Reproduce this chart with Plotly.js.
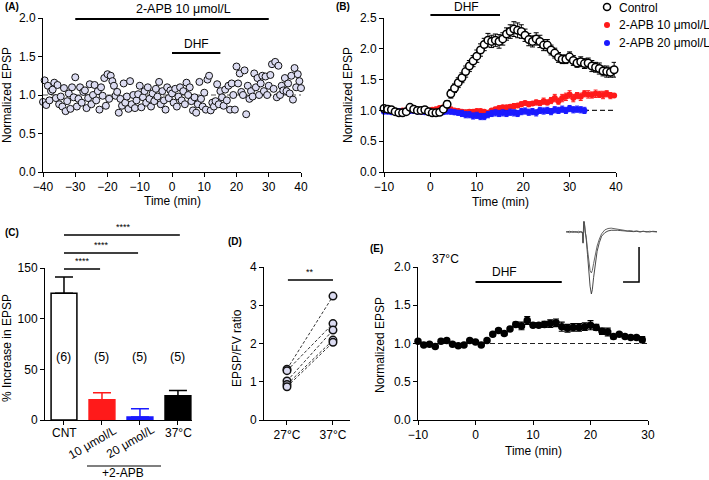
<!DOCTYPE html>
<html><head><meta charset="utf-8">
<script src="https://cdn.plot.ly/plotly-3.0.1.min.js"></script>
<style>html,body{margin:0;padding:0;background:#fff}#plot{width:709px;height:480px}</style>
</head><body><div id="plot"></div>
<script>
// ---------- Panel A: 2-APB 10 µmol/L, DHF ----------
const tA = [-40,-39.5,-39,-38.5,-38,-37.5,-37,-36.5,-36,-35.5,-35,-34.5,-34,-33.5,-33,-32.5,-32,-31.5,-31,-30.5,
-30,-29.5,-29,-28.5,-28,-27.5,-27,-26.5,-26,-25.5,-25,-24.5,-24,-23.5,-23,-22.5,-22,-21.5,-21,-20.5,
-20,-19.5,-19,-18.5,-18,-17.5,-17,-16.5,-16,-15.5,-15,-14.5,-14,-13.5,-13,-12.5,-12,-11.5,-11,-10.5,
-10,-9.5,-9,-8.5,-8,-7.5,-7,-6.5,-6,-5.5,-5,-4.5,-4,-3.5,-3,-2.5,-2,-1.5,-1,-0.5,
0,0.5,1,1.5,2,2.5,3,3.5,4,4.5,5,5.5,6,6.5,7,7.5,8,8.5,9,9.5,
10,10.5,11,11.5,12,12.5,13,13.5,14,14.5,15,15.5,16,16.5,17,17.5,18,18.5,19,19.5,
20,20.5,21,21.5,22,22.5,23,23.5,24,24.5,25,25.5,26,26.5,27,27.5,28,28.5,29,29.5,
30,30.5,31,31.5,32,32.5,33,33.5,34,34.5,35,35.5,36,36.5,37,37.5,38,38.5,39,39.5,40];
const vA = [0.91,1.19,0.87,1.12,0.93,1.05,1.07,1.16,0.96,1.13,0.88,0.98,0.85,1.09,0.79,0.92,1.02,0.82,1.10,0.97,
1.23,0.85,0.95,1.10,0.90,1.04,1.06,0.83,0.96,1.14,0.88,1.00,1.13,0.93,1.05,0.81,1.10,0.99,1.22,0.86,
1.27,0.95,1.25,1.18,1.12,0.99,1.04,0.77,0.95,0.86,1.15,0.90,0.98,0.82,1.18,0.88,1.00,0.83,0.93,1.01,
1.12,0.84,0.97,1.05,0.90,1.10,0.95,0.85,1.02,0.92,1.08,0.98,1.17,0.88,1.05,0.93,0.81,1.10,0.96,1.06,
1.02,0.90,1.08,0.85,0.98,1.10,0.93,1.05,0.88,1.16,1.00,1.10,0.92,0.80,0.97,0.77,0.88,1.17,0.95,0.85,
1.03,0.81,1.20,1.25,0.80,0.90,0.85,0.92,1.14,0.88,1.05,0.97,0.86,1.07,0.93,1.12,0.81,1.15,1.00,0.81,
1.37,1.15,1.28,1.04,1.00,1.32,0.75,1.12,0.95,1.05,0.98,1.28,1.10,1.22,1.00,1.15,1.25,1.05,1.24,1.00,
1.12,1.26,1.40,1.08,1.43,0.97,1.38,1.00,1.12,1.06,1.22,1.05,1.15,1.02,1.25,0.94,1.35,1.10,1.27,1.18,1.09];

// ---------- Panel B: Control vs 2-APB ----------
const tB = [-10,-9.2,-8.4,-7.6,-6.8,-6,-5.2,-4.4,-3.6,-2.8,-2,-1.2,-0.4,
0.4,1.2,2,2.8,3.6,
4.4,5.2,6,6.8,7.6,8.4,9.2,10,
10.8,11.6,12.4,13.2,14,14.8,15.6,16.4,17.2,18,18.8,19.6,20.4,
21.2,22,22.8,23.6,24.4,25.2,26,26.8,27.6,28.4,29.2,30,
30.8,31.6,32.4,33.2,34,34.8,35.6,36.4,37.2,38,38.8,39.6];
const ctrlMean = [1.03,1.02,1.01,0.98,0.96,0.96,0.98,1.05,1.02,1.00,1.00,1.01,0.98,
0.96,0.96,0.97,1.02,1.10,
1.27,1.36,1.45,1.53,1.63,1.72,1.80,1.88,
1.98,2.07,2.14,2.12,2.14,2.12,2.16,2.24,2.28,2.32,2.30,2.28,2.22,
2.15,2.12,2.16,2.12,2.06,2.06,1.98,1.93,1.86,1.83,1.83,1.87,
1.81,1.77,1.79,1.76,1.77,1.72,1.70,1.68,1.64,1.63,1.62,1.66];
const ctrlSem = [0.03,0.02,0.02,0.02,0.03,0.02,0.03,0.03,0.02,0.02,0.02,0.02,0.03,
0.03,0.03,0.04,0.05,0.06,
0.07,0.07,0.08,0.08,0.09,0.09,0.09,0.10,
0.10,0.10,0.11,0.10,0.10,0.11,0.10,0.10,0.11,0.12,0.12,0.11,0.10,
0.10,0.09,0.10,0.10,0.09,0.09,0.08,0.08,0.08,0.07,0.07,0.08,
0.08,0.07,0.08,0.08,0.08,0.09,0.08,0.09,0.08,0.09,0.08,0.12];
const apb10Mean = [0.99,0.99,0.98,0.98,0.99,1.00,1.00,1.00,1.00,0.99,0.98,0.99,1.00,
1.01,1.02,1.04,1.05,1.03,
1.02,1.00,0.99,0.98,0.97,0.98,0.98,0.99,
0.99,0.98,0.96,1.00,1.02,1.04,1.05,1.05,1.06,1.07,1.08,1.10,1.12,
1.10,1.11,1.13,1.12,1.15,1.13,1.16,1.20,1.15,1.20,1.22,1.26,
1.20,1.24,1.22,1.27,1.26,1.25,1.27,1.26,1.25,1.27,1.24,1.24];
const apb10Sem = [0.02,0.02,0.02,0.02,0.02,0.02,0.02,0.02,0.02,0.02,0.02,0.02,0.02,
0.02,0.03,0.03,0.03,0.03,
0.03,0.03,0.03,0.03,0.03,0.03,0.03,0.03,
0.03,0.03,0.03,0.03,0.03,0.03,0.03,0.03,0.03,0.04,0.03,0.04,0.03,
0.04,0.03,0.04,0.04,0.05,0.04,0.05,0.06,0.05,0.06,0.06,0.06,
0.06,0.05,0.06,0.05,0.06,0.05,0.06,0.05,0.06,0.05,0.05,0.03];
const apb20Mean = [0.98,0.98,0.97,0.98,0.99,0.98,0.99,0.99,0.99,0.98,0.98,0.97,0.97,
0.97,0.96,0.96,0.97,0.98,
0.98,0.97,0.96,0.95,0.93,0.93,0.91,0.92,
0.90,0.90,0.93,0.95,0.96,0.95,0.96,0.95,0.97,0.96,0.95,0.98,0.99,
0.97,0.98,0.96,1.00,0.99,1.00,0.98,1.01,1.00,1.02,1.00,1.03,
1.01,1.02,1.01,1.00];
const apb20Sem = [0.02,0.02,0.02,0.02,0.02,0.02,0.02,0.02,0.02,0.02,0.02,0.02,0.02,
0.02,0.03,0.03,0.03,0.03,
0.04,0.04,0.04,0.05,0.05,0.05,0.05,0.05,
0.05,0.05,0.05,0.05,0.05,0.05,0.05,0.05,0.05,0.05,0.05,0.05,0.05,
0.05,0.05,0.05,0.05,0.05,0.05,0.05,0.05,0.05,0.05,0.05,0.05,
0.05,0.05,0.05,0.05];
const tB20 = tB.slice(0, apb20Mean.length);

// ---------- Panel C: % increase ----------
const cCats = ['CNT', '10 μmol/L', '20 μmol/L', '37°C'];
const cMean = [125, 20, 3, 24];
const cSem = [16, 7, 8, 5];
const cN = ['(6)', '(5)', '(5)', '(5)'];
const cFill = ['#ffffff', '#ff1a1a', '#1a1aff', '#000000'];
const cLine = ['#000000', '#ff1a1a', '#1a1aff', '#000000'];

// ---------- Panel D: EPSP/FV ratio ----------
const dCats = ['27°C', '37°C'];
const d27 = [1.33, 1.29, 1.02, 0.93, 0.87];
const d37 = [3.24, 2.52, 2.35, 2.09, 2.03];

// ---------- Panel E: 37°C ----------
const tE = [-10,-9,-8,-7,-6,-5,-4,-3,-2,-1,0,1,2,3,4,5,6,7,8,9,10,11,12,13,14,15,16,17,18,19,20,21,22,23,24,25,26,27,28,29];
const vE = [1.03,0.98,0.99,0.96,1.03,1.04,0.99,0.97,0.98,1.04,
1.02,0.98,1.04,1.12,1.17,1.13,1.19,1.25,1.23,1.30,
1.24,1.24,1.25,1.26,1.27,1.22,1.20,1.21,1.21,1.22,
1.24,1.21,1.16,1.15,1.09,1.12,1.09,1.08,1.08,1.05];
const eE = [0.01,0.01,0.01,0.01,0.01,0.01,0.01,0.01,0.01,0.01,
0.01,0.01,0.01,0.02,0.02,0.02,0.02,0.03,0.05,0.05,
0.03,0.03,0.04,0.05,0.05,0.06,0.05,0.05,0.05,0.05,
0.06,0.04,0.04,0.05,0.03,0.02,0.02,0.02,0.02,0.04];

// ---------- Inset EPSP traces (ms, mV) ----------
const tTrace = [1.9,3,4,5,5.8,6.5,7.0,7.2,7.4,7.6,7.9,8.2,8.6,9.0,9.4,9.8,10.1,10.5,11,11.6,12.3,13,14,15,16,17,18,19,20,21,22,23,24,25,26,27,28,29,30.3];
const vTrace1 = [0.01,-0.02,0.02,-0.01,0.02,0.0,-0.02,-0.3,0.28,0.3,0.0,-0.15,-0.5,-0.85,-1.1,-1.17,-1.1,-0.9,-0.65,-0.4,-0.2,-0.05,0.06,0.1,0.11,0.1,0.08,0.06,0.05,0.03,0.04,0.02,0.03,0.01,0.02,0.0,0.02,0.01,0.0];
const vTrace2 = [0.0,0.02,-0.01,0.01,-0.02,0.01,0.0,-0.32,0.3,0.26,0.0,-0.2,-0.65,-1.15,-1.55,-1.77,-1.65,-1.3,-0.9,-0.55,-0.3,-0.12,-0.02,0.03,0.05,0.06,0.05,0.04,0.03,0.02,0.03,0.01,0.02,0.0,0.02,0.01,0.0,0.02,0.01];
const scaleX = [19.7, 24.7, 24.7];
const scaleY = [-1.43, -1.43, -0.43];

// ---------- helpers ----------
const W = 709, H = 480;
const px = x => x / W;
const py = y => 1 - y / H;
const FONT = 'Liberation Sans, Arial, Helvetica, sans-serif';
const TF = 12;   // tick/axis-title font size

function axis(extra) {
  return Object.assign({
    showline: true, linecolor: '#000', linewidth: 1,
    ticks: 'outside', ticklen: 4, tickwidth: 1, tickcolor: '#000',
    showgrid: false, zeroline: false,
    tickfont: {size: TF, color: '#000', family: FONT}
  }, extra);
}
function f(s) { return {size: s, color: '#000', family: FONT}; }
function ann(text, x, y, o) {
  return Object.assign({text: text, x: px(x), y: py(y), xref: 'paper', yref: 'paper',
    showarrow: false, xanchor: 'center', yanchor: 'middle', font: f(TF)}, o || {});
}

const traces = [];
// A
traces.push({x: tA, y: vA, xaxis: 'x', yaxis: 'y', type: 'scatter', mode: 'markers', cliponaxis: false,
  marker: {size: 7, color: '#dcdcf2', line: {color: '#111', width: 1}}});
// B
traces.push({x: tB, y: apb10Mean, xaxis: 'x2', yaxis: 'y2', type: 'scatter', mode: 'markers', cliponaxis: false,
  marker: {size: 6, color: '#ff1a1a'},
  error_y: {type: 'data', array: apb10Sem, color: '#ff1a1a', thickness: 1, width: 2}});
traces.push({x: tB20, y: apb20Mean, xaxis: 'x2', yaxis: 'y2', type: 'scatter', mode: 'markers', cliponaxis: false,
  marker: {size: 6, color: '#1a1aff'},
  error_y: {type: 'data', array: apb20Sem, color: '#1a1aff', thickness: 1, width: 2}});
traces.push({x: tB, y: ctrlMean, xaxis: 'x2', yaxis: 'y2', type: 'scatter', mode: 'markers', cliponaxis: false,
  marker: {size: 7.5, color: '#ffffff', line: {color: '#000', width: 1.5}},
  error_y: {type: 'data', array: ctrlSem, color: '#000', thickness: 1, width: 2.5}});
// C
cCats.forEach((c, i) => {
  traces.push({x: [i], y: [cMean[i]], xaxis: 'x3', yaxis: 'y3', type: 'bar', width: 0.68,
    marker: {color: cFill[i], line: {color: cLine[i], width: 1.5}},
    error_y: {type: 'data', array: [cSem[i]], arrayminus: [0], symmetric: false,
      color: cLine[i], thickness: 1.5, width: 9}});
});
// D
d27.forEach((v, i) => {
  traces.push({x: [0, 1], y: [v, d37[i]], xaxis: 'x4', yaxis: 'y4', type: 'scatter', mode: 'lines',
    line: {color: '#333', width: 1, dash: '3px,2px'}});
});
traces.push({x: d27.map(() => 0).concat(d37.map(() => 1)), y: d27.concat(d37), xaxis: 'x4', yaxis: 'y4',
  type: 'scatter', mode: 'markers', cliponaxis: false,
  marker: {size: 7.5, color: '#dcdcf2', line: {color: '#111', width: 1.5}}});
// E
traces.push({x: tE, y: vE, xaxis: 'x5', yaxis: 'y5', type: 'scatter', mode: 'markers', cliponaxis: false,
  marker: {size: 7.5, color: '#000'},
  error_y: {type: 'data', array: eE, color: '#000', thickness: 1.2, width: 3}});
// Inset
traces.push({x: tTrace, y: vTrace2, xaxis: 'x6', yaxis: 'y6', type: 'scatter', mode: 'lines',
  line: {color: '#333', width: 0.9}});
traces.push({x: tTrace, y: vTrace1, xaxis: 'x6', yaxis: 'y6', type: 'scatter', mode: 'lines',
  line: {color: '#555', width: 0.9}});
traces.push({x: scaleX, y: scaleY, xaxis: 'x6', yaxis: 'y6', type: 'scatter', mode: 'lines',
  line: {color: '#000', width: 1.5}});

const shapes = [
  // dashed baselines
  {type: 'line', xref: 'x', yref: 'y', x0: -40, x1: 40, y0: 1, y1: 1, line: {color: '#555', width: 1, dash: '5px,3px'}, layer: 'below'},
  {type: 'line', xref: 'x2', yref: 'y2', x0: -10, x1: 40, y0: 1, y1: 1, line: {color: '#222', width: 1.2, dash: '5px,3px'}, layer: 'below'},
  {type: 'line', xref: 'x5', yref: 'y5', x0: -10, x1: 30, y0: 1, y1: 1, line: {color: '#222', width: 1.2, dash: '5px,3px'}, layer: 'below'},
  // treatment bars
  {type: 'line', xref: 'x', yref: 'paper', x0: -30, x1: 30, y0: py(19), y1: py(19), line: {color: '#000', width: 2}},
  {type: 'line', xref: 'x', yref: 'paper', x0: 0, x1: 15, y0: py(53), y1: py(53), line: {color: '#000', width: 2}},
  {type: 'line', xref: 'x2', yref: 'paper', x0: 0, x1: 15, y0: py(15), y1: py(15), line: {color: '#000', width: 2}},
  {type: 'line', xref: 'x5', yref: 'paper', x0: 0, x1: 15, y0: py(282), y1: py(282), line: {color: '#000', width: 2}},
  // significance lines C
  {type: 'line', xref: 'x3', yref: 'paper', x0: 0, x1: 0.95, y0: py(269), y1: py(269), line: {color: '#000', width: 1.5}},
  {type: 'line', xref: 'x3', yref: 'paper', x0: 0, x1: 1.95, y0: py(253), y1: py(253), line: {color: '#000', width: 1.5}},
  {type: 'line', xref: 'x3', yref: 'paper', x0: 0, x1: 3.05, y0: py(235), y1: py(235), line: {color: '#000', width: 1.5}},
  // +2-APB underline
  {type: 'line', xref: 'paper', yref: 'paper', x0: px(87), x1: px(161), y0: py(466), y1: py(466), line: {color: '#000', width: 1.2}},
  // significance D
  {type: 'line', xref: 'x4', yref: 'paper', x0: 0.02, x1: 1.0, y0: py(280), y1: py(280), line: {color: '#000', width: 1.5}},
  // legend markers B
  {type: 'circle', xref: 'paper', yref: 'paper', x0: px(603.5), x1: px(610.5), y0: py(10.5), y1: py(3.5), fillcolor: '#fff', line: {color: '#000', width: 1.5}},
  {type: 'circle', xref: 'paper', yref: 'paper', x0: px(604), x1: px(610), y0: py(28), y1: py(22), fillcolor: '#ff1a1a', line: {width: 0}},
  {type: 'circle', xref: 'paper', yref: 'paper', x0: px(604), x1: px(610), y0: py(46), y1: py(40), fillcolor: '#1a1aff', line: {width: 0}}
];

const bold = {size: 10, color: '#000', family: FONT, weight: 'bold'};
const annotations = [
  // panel labels
  ann('<b>(A)</b>', 3, 7, {xanchor: 'left', font: bold}),
  ann('<b>(B)</b>', 334, 7, {xanchor: 'left', font: bold}),
  ann('<b>(C)</b>', 3, 232, {xanchor: 'left', font: bold}),
  ann('<b>(D)</b>', 226, 241, {xanchor: 'left', font: bold}),
  ann('<b>(E)</b>', 368, 248, {xanchor: 'left', font: bold}),
  // A
  ann('2-APB 10 μmol/L', 183, 9, {font: f(12.5)}),
  ann('DHF', 196, 44),
  ann('Normalized EPSP', 7, 95, {textangle: -90}),
  ann('Time (min)', 172, 201),
  // B
  ann('DHF', 466, 7),
  ann('Normalized EPSP', 348, 95, {textangle: -90}),
  ann('Time (min)', 500, 202),
  ann('Control', 617, 7.5, {xanchor: 'left', font: f(12)}),
  ann('2-APB 10 μmol/L', 617, 25, {xanchor: 'left', font: f(12)}),
  ann('2-APB 20 μmol/L', 617, 43, {xanchor: 'left', font: f(12)}),
  // C
  ann('% Increase in EPSP', 7, 348, {textangle: -90}),
  ann(cCats[0], 64, 433),
  ann(cCats[1], 92, 443, {textangle: -30}),
  ann(cCats[2], 130, 442, {textangle: -30}),
  ann(cCats[3], 178, 433),
  ann('+2-APB', 123, 473, {font: f(12)}),
  ann('****', 82, 268, {yanchor: 'bottom', font: f(9)}),
  ann('****', 101, 252, {yanchor: 'bottom', font: f(9)}),
  ann('****', 123, 234, {yanchor: 'bottom', font: f(9)}),
  // D
  ann('EPSP/FV ratio', 237, 348, {textangle: -90}),
  ann('**', 310, 279, {yanchor: 'bottom', font: f(9)}),
  // E
  ann('37°C', 445, 259),
  ann('DHF', 504, 272),
  ann('Normalized EPSP', 380, 345, {textangle: -90}),
  ann('Time (min)', 533, 451)
];
// n labels inside C bars (at data y)
cN.forEach((t, i) => {
  annotations.push({text: t, x: i, y: 62, xref: 'x3', yref: 'y3', showarrow: false, font: f(12.5)});
});

const layout = {
  width: W, height: H, margin: {l: 0, r: 0, t: 0, b: 0},
  paper_bgcolor: '#fff', plot_bgcolor: 'rgba(0,0,0,0)',
  showlegend: false, font: {family: FONT, color: '#000', size: TF},
  xaxis: axis({domain: [px(43), px(301)], range: [-40, 40], tickvals: [-40,-30,-20,-10,0,10,20,30,40], anchor: 'y'}),
  yaxis: axis({domain: [py(172), py(18)], range: [0, 2], dtick: 0.5, tickformat: '.1f', anchor: 'x'}),
  xaxis2: axis({domain: [px(384), px(616)], range: [-10, 40], dtick: 10, anchor: 'y2'}),
  yaxis2: axis({domain: [py(172), py(18)], range: [0, 2.5], dtick: 0.5, tickformat: '.1f', anchor: 'x2'}),
  xaxis3: axis({domain: [px(45), px(192)], range: [-0.5, 3.37], tickvals: [0, 1, 2, 3], showticklabels: false, anchor: 'y3'}),
  yaxis3: axis({domain: [py(420), py(268)], range: [0, 150], dtick: 50, anchor: 'x3'}),
  xaxis4: axis({domain: [px(264), px(350)], range: [-0.5, 1.37], tickvals: [0, 1], ticktext: dCats, anchor: 'y4'}),
  yaxis4: axis({domain: [py(420), py(267)], range: [0, 4], dtick: 1, anchor: 'x4'}),
  xaxis5: axis({domain: [px(418), px(648)], range: [-10, 30], dtick: 10, anchor: 'y5'}),
  yaxis5: axis({domain: [py(420), py(267)], range: [0, 2], dtick: 0.5, tickformat: '.1f', anchor: 'x5'}),
  xaxis6: {domain: [px(560), px(660)], range: [0, 31.25], visible: false, anchor: 'y6', fixedrange: true},
  yaxis6: {domain: [py(300), py(218)], range: [-1.943, 0.4], visible: false, anchor: 'x6', fixedrange: true},
  shapes: shapes,
  annotations: annotations
};

Plotly.newPlot('plot', traces, layout, {staticPlot: true, displayModeBar: false});
</script>
</body></html>
